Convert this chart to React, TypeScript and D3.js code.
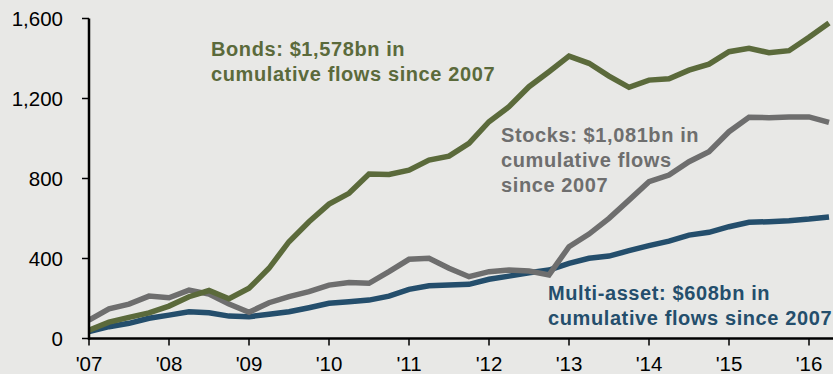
import React from "react";
import * as d3 from "d3";

const startYear = 2007;
const stepYears = 0.25;

const bonds = [42, 82, 106, 128, 162, 209, 240, 199, 251, 351, 484, 584, 672, 726, 822, 820, 842, 892, 912, 976, 1084, 1159, 1259, 1334, 1412, 1376, 1312, 1256, 1292, 1299, 1342, 1372, 1434, 1451, 1429, 1439, 1506, 1578];
const stocks = [92, 148, 172, 212, 204, 242, 222, 172, 131, 179, 209, 234, 267, 280, 276, 334, 396, 401, 351, 309, 334, 342, 337, 318, 459, 522, 601, 692, 784, 817, 884, 934, 1034, 1106, 1104, 1108, 1108, 1081];
const multi = [34, 59, 76, 101, 117, 134, 129, 112, 109, 121, 134, 154, 176, 184, 192, 212, 246, 264, 267, 271, 296, 312, 329, 342, 376, 401, 412, 439, 464, 487, 517, 531, 559, 581, 584, 589, 597, 608];

const yTicks = [0, 400, 800, 1200, 1600];
const xTicks = [2007, 2008, 2009, 2010, 2011, 2012, 2013, 2014, 2015, 2016];
const xTickLabels = ["'07", "'08", "'09", "'10", "'11", "'12", "'13", "'14", "'15", "'16"];

const bondsLabel = ["Bonds: $1,578bn in", "cumulative flows since 2007"];
const stocksLabel = ["Stocks: $1,081bn in", "cumulative flows", "since 2007"];
const multiLabel = ["Multi-asset: $608bn in", "cumulative flows since 2007"];

const W = 833;
const H = 374;
const FONT = "'Liberation Sans', Arial, Helvetica, sans-serif";

const colors = {
  bonds: "#5b6a3b",
  stocks: "#6e6e6e",
  multi: "#244e6c",
  bg: "#e8e8e6",
};

export default function App() {
  const x = d3.scaleLinear().domain([2007, 2016.3]).range([89, 833]);
  const y = d3.scaleLinear().domain([0, 1600]).range([338.5, 18.5]);

  const line = d3
    .line<number>()
    .x((_, i) => x(startYear + i * stepYears))
    .y((d) => y(d))
    .curve(d3.curveLinear);

  const series = [
    { data: multi, color: colors.multi },
    { data: stocks, color: colors.stocks },
    { data: bonds, color: colors.bonds },
  ];

  const x0 = x.range()[0];
  const yBottom = y(0);

  const annotations = [
    { lines: bondsLabel, x: 211, y: 56, color: colors.bonds },
    { lines: stocksLabel, x: 501, y: 142, color: colors.stocks },
    { lines: multiLabel, x: 548, y: 300, color: colors.multi },
  ];

  return (
    <div style={{ position: "fixed", left: 0, top: 0, width: W, height: H }}>
      <svg width={W} height={H} style={{ display: "block" }}>
        <rect x={0} y={0} width={W} height={H} fill={colors.bg} />
        <defs>
          <clipPath id="plot">
            <rect x={x0} y={0} width={W - x0} height={yBottom + 3} />
          </clipPath>
        </defs>
        <g clipPath="url(#plot)">
          {series.map((s, i) => (
            <path
              key={i}
              d={line(s.data) || ""}
              fill="none"
              stroke={s.color}
              strokeWidth={5.5}
              strokeLinejoin="miter"
            />
          ))}
        </g>
        {/* axes */}
        <line x1={x0} x2={x0} y1={y(1600)} y2={yBottom + 1.5} stroke="#000" strokeWidth={2.5} />
        <line x1={x0 - 1} x2={W} y1={yBottom} y2={yBottom} stroke="#000" strokeWidth={2.5} />
        {yTicks.map((t) => (
          <g key={t}>
            <line x1={x0 - 7} x2={x0} y1={y(t)} y2={y(t)} stroke="#000" strokeWidth={1.5} />
            <text
              x={63}
              y={y(t)}
              dy="0.36em"
              textAnchor="end"
              fontFamily={FONT}
              fontSize={20.5}
              fill="#000"
            >
              {d3.format(",")(t)}
            </text>
          </g>
        ))}
        {xTicks.map((t, i) => (
          <g key={t}>
            <line x1={x(t)} x2={x(t)} y1={yBottom} y2={yBottom + 7} stroke="#000" strokeWidth={1.5} />
            <text
              x={x(t)}
              y={371}
              textAnchor="middle"
              fontFamily={FONT}
              fontSize={20.5}
              fill="#000"
            >
              {xTickLabels[i]}
            </text>
          </g>
        ))}
        {annotations.map((a, i) => (
          <text
            key={i}
            x={a.x}
            y={a.y}
            fontFamily={FONT}
            fontWeight="bold"
            fontSize={20}
            letterSpacing={0.6}
            fill={a.color}
          >
            {a.lines.map((l, j) => (
              <tspan key={j} x={a.x} dy={j === 0 ? 0 : 25}>
                {l}
              </tspan>
            ))}
          </text>
        ))}
      </svg>
    </div>
  );
}
